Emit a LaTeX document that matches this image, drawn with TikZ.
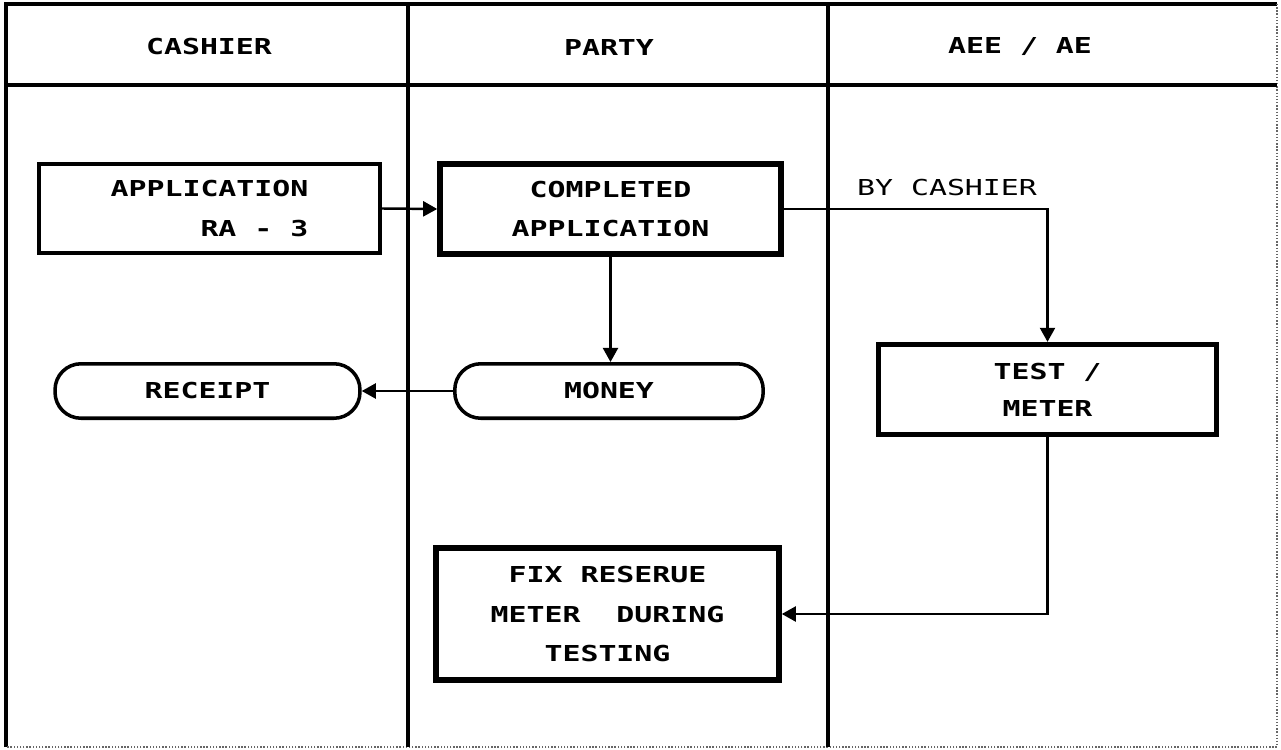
\documentclass[tikz,border=0pt]{standalone}
\usepackage{fontspec}
\newfontfamily\dm[FakeStretch=1.36,BoldFeatures={FakeStretch=1.36}]{DejaVu Sans Mono}
\usetikzlibrary{arrows.meta}
\begin{document}
\begin{tikzpicture}[x=0.02cm,y=-0.02cm,
  lbl/.style={font=\dm\bfseries\fontsize{12.5}{22.7}\selectfont, align=center, inner sep=0pt},
  plainlbl/.style={font=\dm\fontsize{12.5}{22.7}\selectfont, inner sep=0pt},
  procbox/.style={draw, line width=3pt, rectangle, lbl},
  pill/.style={draw, line width=2pt, rectangle, rounded corners=0.52cm, lbl},
  lane/.style={line width=1.8pt},
  faint/.style={line width=0.8pt, densely dotted, black!60},
  conn/.style={line width=1.4pt, -{Triangle[length=8pt,width=8.5pt]}},
  connl/.style={line width=1.4pt}]
\useasboundingbox (0,0) rectangle (1281,750);
% frame and lanes
\draw[lane] (6,747) -- (6,4) -- (1277,4);
\draw[faint] (1277,4) -- (1277,747) -- (6,747);
\draw[lane] (6,85) -- (1277,85);
\draw[lane] (408,4) -- (408,747);
\draw[lane] (828,4) -- (828,747);
% headers
\node[lbl] (h1) at (209,47) {CASHIER};
\node[lbl] (h2) at (609,47) {PARTY};
\node[lbl] (h3) at (1020,47) {AEE / AE};
% nodes
\node[procbox, line width=2.2pt, minimum width=6.82cm, minimum height=1.78cm] (app) at (209.5,208.5)
  {APPLICATION\\\phantom{APPLI}RA - 3};
\node[procbox, line width=3.2pt, minimum width=6.82cm, minimum height=1.80cm] (comp) at (610.5,209)
  {COMPLETED\\APPLICATION};
\node[procbox, minimum width=6.76cm, minimum height=1.80cm, font=\dm\bfseries\fontsize{12.5}{21}\selectfont] (test) at (1047.5,389.5)
  {TEST /\\METER};
\node[procbox, line width=3.2pt, minimum width=6.86cm, minimum height=2.64cm] (fix) at (607.5,614)
  {FIX RESERUE\\METER\ \ DURING\\TESTING};
\node[pill, minimum width=6.1cm, minimum height=1.09cm] (receipt) at (207.5,391) {RECEIPT};
\node[pill, minimum width=6.17cm, minimum height=1.09cm] (money) at (609,391) {MONEY};
\node[plainlbl] (by) at (947,188) {BY CASHIER};
% connectors
\draw[conn] (app.east) -- (comp.west);
\draw[conn] (comp.east) -| (test.north);
\draw[conn] (comp.south) -- (comp.south |- money.north);
\draw[conn] (money.west) -- (receipt.east);
\draw[conn] (test.south) |- (fix.east);
\end{tikzpicture}
\end{document}
